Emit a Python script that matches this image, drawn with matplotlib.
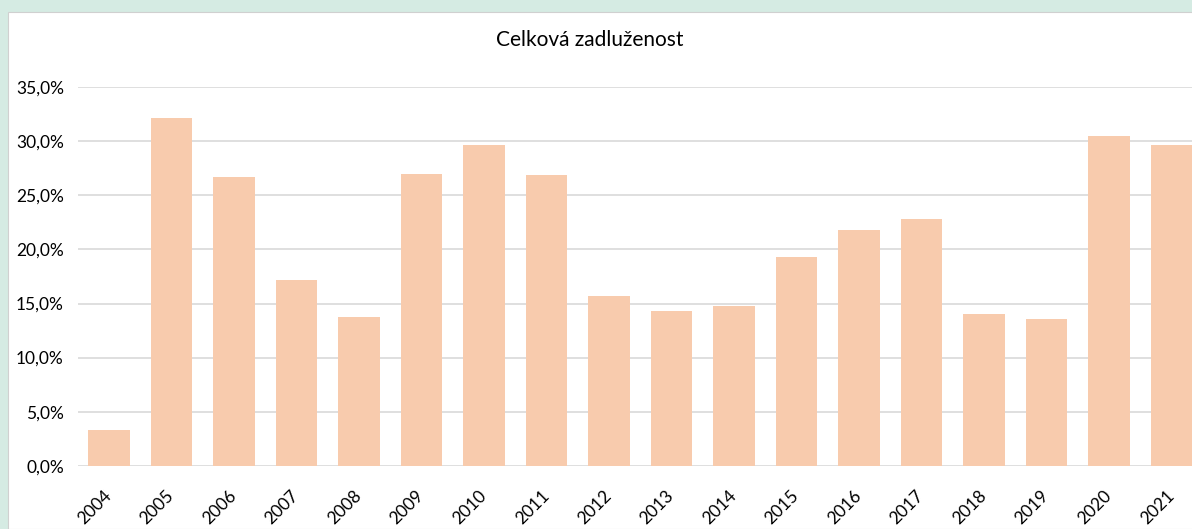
import matplotlib
matplotlib.use("Agg")
import matplotlib.pyplot as plt
from matplotlib.patches import Rectangle
from matplotlib.ticker import FuncFormatter, MultipleLocator

years = ["2004", "2005", "2006", "2007", "2008", "2009", "2010", "2011", "2012",
         "2013", "2014", "2015", "2016", "2017", "2018", "2019", "2020", "2021"]
values = [3.3, 32.2, 26.7, 17.2, 13.8, 27.0, 29.7, 26.9, 15.7,
          14.3, 14.8, 19.3, 21.8, 22.8, 14.0, 13.6, 30.5, 29.7]

plt.rcParams['font.family'] = ['Lato', 'DejaVu Sans']

fig = plt.figure(figsize=(11.92, 5.29), dpi=100)
fig.patch.set_facecolor('#d5ebe3')
bg = Rectangle((8 / 1192, 0), 1.0, (529 - 12) / 529, transform=fig.transFigure,
               facecolor='white', edgecolor='#d0d0d0', linewidth=0.8, zorder=-5)
fig.patches.append(bg)

ax = fig.add_axes([77.75 / 1192, 63.3 / 529, 1125 / 1192, (465.7 - 87.3) / 529])
ax.set_zorder(5)
ax.set_facecolor('none')
x = list(range(len(years)))
ax.bar(x, values, width=0.66, color='#f8cbad', zorder=3)
ax.set_xlim(-0.5, len(years) - 0.5)
ax.set_ylim(0, 35)
ax.yaxis.set_major_locator(MultipleLocator(5))
ax.yaxis.set_major_formatter(FuncFormatter(lambda v, p: f"{v:.1f}".replace('.', ',') + "%"))
ax.grid(axis='y', color='#d9d9d9', linewidth=1.2, zorder=0)
ax.set_axisbelow(True)
for s in ax.spines.values():
    s.set_visible(False)
ax.tick_params(axis='both', length=0, labelsize=12.5, colors='black')
ax.tick_params(axis='y', pad=10)
ax.set_xticks(x)
ax.set_xticklabels(years, rotation=45, ha='right', va='center', rotation_mode='anchor')
ax.tick_params(axis='x', pad=20)

fig.text(590 / 1192, 1 - 40 / 529, "Celková zadluženost", ha='center', va='center', fontsize=15)

fig.savefig("out.png", dpi=100, facecolor=fig.get_facecolor())
